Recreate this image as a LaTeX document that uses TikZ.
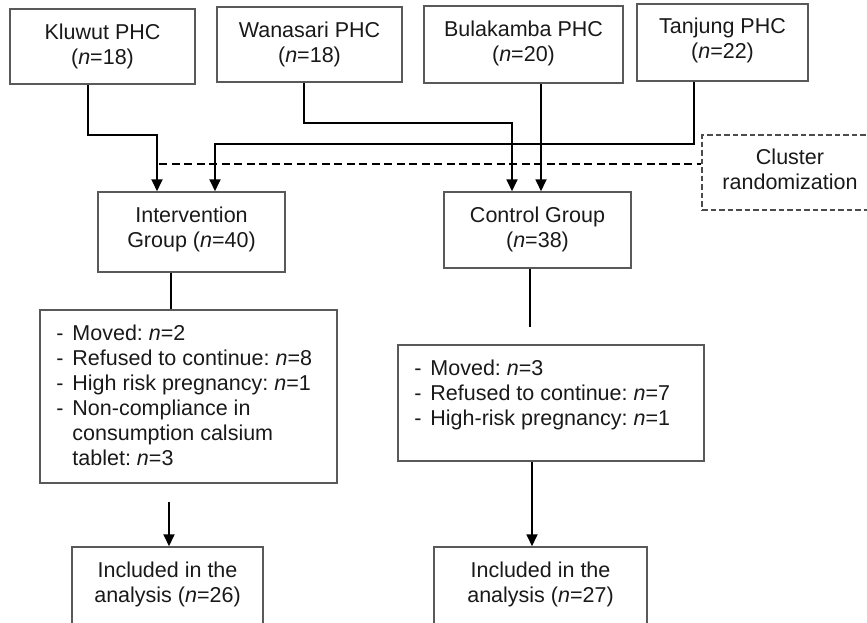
\documentclass[tikz,border=0pt]{standalone}
\usepackage{fontspec}
\setmainfont{Liberation Sans}
\usetikzlibrary{arrows.meta}
\newcommand\itm[1]{\makebox[16pt][l]{-}#1}
\newcommand\cnt[1]{\hspace*{16pt}#1}
\begin{document}
\begin{tikzpicture}[x=1pt,y=-1pt,
  box/.style={draw=black!65, line width=1.5pt, rectangle, inner sep=0pt},
  dbox/.style={draw=black!70, line width=1.2pt, rectangle, inner sep=0pt, dash pattern=on 5.5pt off 3pt},
  txt/.style={font=\fontsize{21.5}{25}\selectfont\frenchspacing, align=center, anchor=north, inner sep=0pt, text=black!90},
  ltxt/.style={font=\fontsize{21.5}{25}\selectfont\frenchspacing, align=left, anchor=north west, inner sep=0pt, text=black!90},
  conn/.style={draw=black, line width=1.8pt},
  arr/.style={conn, -{Triangle[width=11pt,length=12pt]}},
  dsh/.style={draw=black, line width=1.8pt, dash pattern=on 8pt off 4.5pt}]
\useasboundingbox (0,0) rectangle (867,622);
\clip (0,0) rectangle (867,622);
% top boxes
\node[box, minimum width=185pt, minimum height=75pt] (k) at (102.5,46.5) {};
\node[txt] (kt) at ([yshift=-15pt]k.north) {Kluwut PHC\\(\textit{n}=18)};
\node[box, minimum width=185pt, minimum height=75pt] (w) at (309.5,44.5) {};
\node[txt] (wt) at ([yshift=-15pt]w.north) {Wanasari PHC\\(\textit{n}=18)};
\node[box, minimum width=199pt, minimum height=77pt] (b) at (523.5,44.5) {};
\node[txt] (bt) at ([yshift=-15pt]b.north) {Bulakamba PHC\\(\textit{n}=20)};
\node[box, minimum width=171pt, minimum height=77pt] (t) at (722.5,42.5) {};
\node[txt] (tt) at ([yshift=-14pt]t.north) {Tanjung PHC\\(\textit{n}=22)};
% cluster
\node[dbox, minimum width=176pt, minimum height=75pt] (cl) at (790,172.5) {};
\node[txt] (clt) at ([yshift=-14pt]cl.north) {Cluster\\randomization};
% groups
\node[box, minimum width=187pt, minimum height=80pt] (int) at (191.5,232) {};
\node[txt] (intt) at ([yshift=-15pt]int.north) {Intervention\\Group (\textit{n}=40)};
\node[box, minimum width=187pt, minimum height=76pt] (ctl) at (537.5,230) {};
\node[txt] (ctlt) at ([yshift=-15pt]ctl.north) {Control Group\\(\textit{n}=38)};
% exclusions
\node[box, minimum width=297pt, minimum height=173pt] (ex1) at (188.5,396.5) {};
\node[ltxt] (ex1t) at ([xshift=17pt,yshift=-15pt]ex1.north west) {\itm{Moved: \textit{n}=2}\\\itm{Refused to continue: \textit{n}=8}\\\itm{High risk pregnancy: \textit{n}=1}\\\itm{Non-compliance in}\\\cnt{consumption calsium}\\\cnt{tablet: \textit{n}=3}};
\node[box, minimum width=306pt, minimum height=116pt] (ex2) at (551,403) {};
\node[ltxt] (ex2t) at ([xshift=17pt,yshift=-15pt]ex2.north west) {\itm{Moved: \textit{n}=3}\\\itm{Refused to continue: \textit{n}=7}\\\itm{High-risk pregnancy: \textit{n}=1}};
% included
\node[box, minimum width=191pt, minimum height=80pt] (in1) at (167.5,587) {};
\node[txt] (in1t) at ([yshift=-15pt]in1.north) {Included in the\\analysis (\textit{n}=26)};
\node[box, minimum width=213pt, minimum height=80pt] (in2) at (540.5,587) {};
\node[txt] (in2t) at ([yshift=-15pt]in2.north) {Included in the\\analysis (\textit{n}=27)};
% connectors
\draw[arr] ([xshift=-14.5pt]k.south) -- ++(0,50) -| ([xshift=-34.5pt]int.north);
\draw[arr] ([xshift=-5.5pt]w.south) -- ++(0,40) -| ([xshift=-25.5pt]ctl.north);
\draw[arr] ([xshift=17.5pt]b.south) -- ([xshift=17.5pt]b.south |- ctl.north);
\draw[arr] ([xshift=-28.5pt]t.south) -- ++(0,62) -| ([xshift=23.5pt]int.north);
\coordinate (ds) at (159,164);
\draw[dsh] (ds) -- (ds -| cl.west);
\draw[conn] ([xshift=-20.5pt]int.south) -- ([xshift=-20.5pt]int.south |- ex1.north);
\coordinate (ce) at (530,327);
\draw[conn] (ctl.south -| ce) -- (ce);
\coordinate (s1) at (169,502);
\draw[arr] (s1) -- (s1 |- in1.north);
\draw[arr] ([xshift=-19pt]ex2.south) -- ([xshift=-19pt]ex2.south |- in2.north);
\end{tikzpicture}
\end{document}
